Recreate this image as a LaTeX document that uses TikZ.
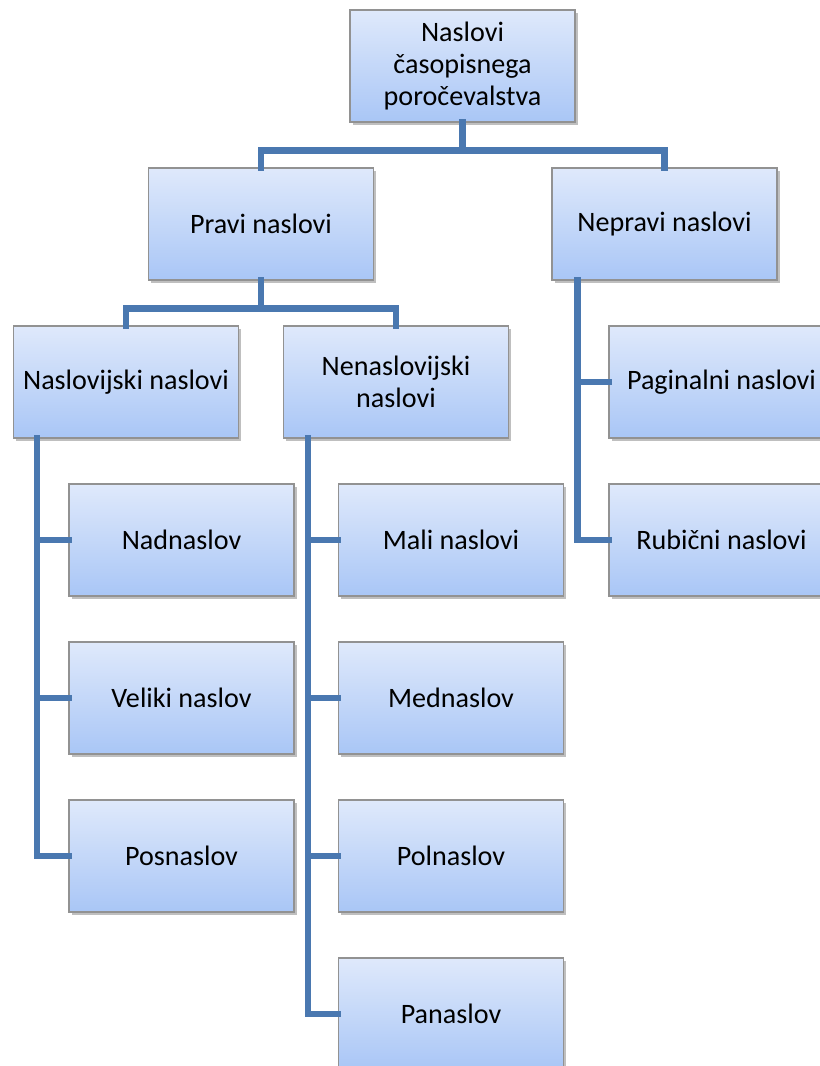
\documentclass[tikz,border=0pt]{standalone}
\usepackage{fontspec}
\setmainfont{Carlito}
\usetikzlibrary{shadows}
\definecolor{boxtop}{HTML}{DFE9FB}
\definecolor{boxbot}{HTML}{A9C6F6}
\definecolor{boxline}{HTML}{929292}
\definecolor{linkblue}{HTML}{4A78B0}
\begin{document}
\begin{tikzpicture}[
    box/.style={draw=boxline, line width=0.6pt, top color=boxtop, bottom color=boxbot,
      minimum width=4.5cm, minimum height=2.24cm, inner sep=2pt, align=center,
      font=\fontsize{16}{18}\selectfont,
      drop shadow={shadow xshift=0.05cm, shadow yshift=-0.05cm, fill=black, opacity=0.25}},
    link/.style={draw=linkblue, line width=3.6pt, line cap=rect}
  ]
  \useasboundingbox (0,0) rectangle (16.4,-21.32);
  \clip (0,0) rectangle (16.4,-21.32);
  \node [box] (root) at (9.25,-1.32) {Naslovi\\časopisnega\\poročevalstva};
  \node [box] (pravi) at (5.22,-4.48) {Pravi naslovi};
  \node [box] (nepravi) at (13.29,-4.48) {Nepravi naslovi};
  \node [box] (naslovijski) at (2.52,-7.64) {Naslovijski naslovi};
  \node [box] (nenaslovijski) at (7.92,-7.64) {Nenaslovijski\\naslovi};
  \node [box] (nadnaslov) at (3.63,-10.8) {Nadnaslov};
  \node [box] (veliki) at (3.63,-13.96) {Veliki naslov};
  \node [box] (posnaslov) at (3.63,-17.12) {Posnaslov};
  \node [box] (mali) at (9.02,-10.8) {Mali naslovi};
  \node [box] (mednaslov) at (9.02,-13.96) {Mednaslov};
  \node [box] (polnaslov) at (9.02,-17.12) {Polnaslov};
  \node [box] (panaslov) at (9.02,-20.28) {Panaslov};
  \node [box] (paginalni) at (14.43,-7.64) {Paginalni naslovi};
  \node [box] (rubicni) at (14.43,-10.8) {Rubični naslovi};
  % vodoravne povezave
  \draw [link] (root.south) -- ++(0,-0.56) -| (pravi.north);
  \draw [link] (root.south) -- ++(0,-0.56) -| (nepravi.north);
  \draw [link] (pravi.south) -- ++(0,-0.56) -| (naslovijski.north);
  \draw [link] (pravi.south) -- ++(0,-0.56) -| (nenaslovijski.north);
  % navpicne povezave
  \draw [link] ([xshift=0.48cm]naslovijski.south west) |- (nadnaslov.west);
  \draw [link] ([xshift=0.48cm]naslovijski.south west) |- (veliki.west);
  \draw [link] ([xshift=0.48cm]naslovijski.south west) |- (posnaslov.west);
  \draw [link] ([xshift=0.5cm]nenaslovijski.south west) |- (mali.west);
  \draw [link] ([xshift=0.5cm]nenaslovijski.south west) |- (mednaslov.west);
  \draw [link] ([xshift=0.5cm]nenaslovijski.south west) |- (polnaslov.west);
  \draw [link] ([xshift=0.5cm]nenaslovijski.south west) |- (panaslov.west);
  \draw [link] ([xshift=0.52cm]nepravi.south west) |- (paginalni.west);
  \draw [link] ([xshift=0.52cm]nepravi.south west) |- (rubicni.west);
\end{tikzpicture}
\end{document}
